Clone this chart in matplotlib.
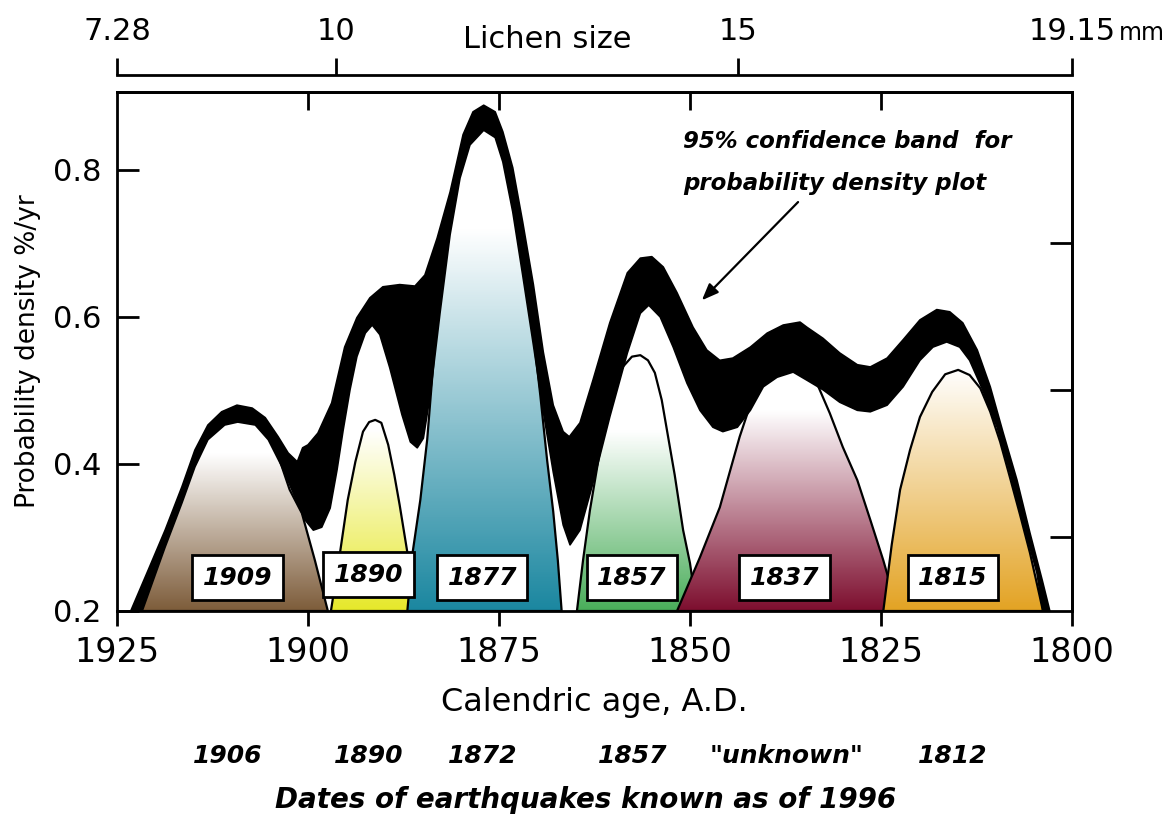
import numpy as np
import matplotlib.pyplot as plt
from matplotlib.patches import Polygon
from matplotlib.colors import LinearSegmentedColormap

# 95% confidence band, outer (upper) and inner (lower) edge
band_upper_yr = [1923.2, 1920.9, 1918.7, 1916.5, 1914.8, 1913.1, 1911.3, 1909.3, 1907.3, 1905.6,
                 1903.9, 1902.6, 1901.4, 1900.7, 1900.0, 1898.7, 1896.9, 1895.2, 1893.6, 1891.9,
                 1890.2, 1888.0, 1886.0, 1884.7, 1883.1, 1881.4, 1879.7, 1878.4, 1877.0, 1875.5,
                 1874.5, 1873.2, 1871.9, 1870.5, 1869.2, 1867.9, 1866.6, 1865.8, 1864.4, 1862.7,
                 1860.5, 1858.2, 1856.5, 1855.0, 1853.5, 1851.7, 1849.6, 1847.8, 1846.1, 1844.4,
                 1842.1, 1839.9, 1837.8, 1835.6, 1834.7, 1832.6, 1830.4, 1828.1, 1826.4, 1824.2,
                 1822.1, 1819.9, 1817.7, 1816.0, 1814.3, 1812.4, 1810.7, 1809.0, 1807.2, 1805.5,
                 1803.9, 1802.9]
band_upper_p = [0.200, 0.256, 0.310, 0.369, 0.419, 0.453, 0.471, 0.480, 0.476, 0.463,
                0.437, 0.415, 0.403, 0.422, 0.426, 0.442, 0.483, 0.559, 0.599, 0.626,
                0.641, 0.644, 0.642, 0.657, 0.707, 0.770, 0.848, 0.879, 0.888, 0.879,
                0.852, 0.803, 0.729, 0.644, 0.552, 0.480, 0.444, 0.437, 0.456, 0.514,
                0.592, 0.660, 0.680, 0.682, 0.668, 0.633, 0.586, 0.555, 0.541, 0.544,
                0.559, 0.578, 0.589, 0.593, 0.586, 0.571, 0.551, 0.535, 0.532, 0.544,
                0.569, 0.596, 0.610, 0.607, 0.592, 0.555, 0.505, 0.442, 0.378, 0.306,
                0.242, 0.200]
band_lower_yr = [1921.7, 1918.7, 1916.5, 1914.8, 1913.1, 1910.9, 1909.2, 1906.9, 1905.2, 1903.4,
                 1901.7, 1900.4, 1899.3, 1898.2, 1897.1, 1896.2, 1895.4, 1894.5, 1893.6, 1892.5,
                 1891.6, 1890.6, 1889.3, 1887.7, 1886.6, 1885.7, 1884.9, 1884.0, 1882.7, 1881.4,
                 1880.1, 1878.8, 1877.0, 1875.5, 1874.5, 1873.2, 1871.9, 1870.5, 1869.2, 1867.9,
                 1866.6, 1865.7, 1864.4, 1862.7, 1860.5, 1858.2, 1856.5, 1855.4, 1853.9, 1852.2,
                 1850.4, 1848.7, 1847.0, 1845.7, 1843.8, 1842.1, 1840.4, 1838.6, 1836.5, 1834.7,
                 1832.6, 1830.4, 1828.1, 1826.4, 1824.2, 1822.1, 1819.9, 1818.2, 1816.4, 1814.7,
                 1813.4, 1811.7, 1809.8, 1808.1, 1806.4, 1804.6, 1803.8]
band_lower_p = [0.200, 0.287, 0.347, 0.396, 0.433, 0.453, 0.457, 0.453, 0.433, 0.396,
                0.355, 0.324, 0.310, 0.314, 0.340, 0.392, 0.446, 0.501, 0.546, 0.578,
                0.589, 0.576, 0.531, 0.467, 0.430, 0.422, 0.435, 0.494, 0.607, 0.712,
                0.789, 0.834, 0.854, 0.844, 0.811, 0.743, 0.657, 0.562, 0.471, 0.389,
                0.317, 0.290, 0.310, 0.374, 0.464, 0.551, 0.605, 0.616, 0.600, 0.559,
                0.510, 0.473, 0.450, 0.444, 0.450, 0.473, 0.505, 0.518, 0.525, 0.514,
                0.501, 0.484, 0.473, 0.471, 0.480, 0.505, 0.541, 0.559, 0.566, 0.559,
                0.541, 0.501, 0.450, 0.388, 0.320, 0.252, 0.200]

# lichen-size clusters (shaded humps)
h1909_yr = [1922.0, 1918.7, 1916.5, 1914.8, 1913.1, 1910.9, 1909.2, 1906.9, 1905.2, 1903.7, 1902.4, 1900.8, 1899.1, 1897.4]
h1909_p = [0.200, 0.295, 0.355, 0.405, 0.440, 0.460, 0.465, 0.460, 0.440, 0.405, 0.365, 0.333, 0.269, 0.200]
h1890_yr = [1897.0, 1895.8, 1894.8, 1893.8, 1892.8, 1892.0, 1891.2, 1890.4, 1889.5, 1888.7, 1888.0, 1887.0, 1886.3]
h1890_p = [0.200, 0.280, 0.351, 0.403, 0.444, 0.457, 0.460, 0.456, 0.426, 0.385, 0.344, 0.280, 0.200]
h1877_yr = [1887.0, 1886.3, 1885.3, 1884.4, 1883.4, 1882.3, 1881.2, 1879.8, 1878.5, 1877.0,
            1875.5, 1874.5, 1873.2, 1871.9, 1870.5, 1869.6, 1868.7, 1867.9, 1867.3, 1866.8]
h1877_p = [0.200, 0.280, 0.351, 0.433, 0.562, 0.657, 0.752, 0.820, 0.848, 0.861,
           0.852, 0.820, 0.752, 0.671, 0.576, 0.494, 0.405, 0.335, 0.269, 0.200]
h1857_yr = [1864.8, 1864.0, 1863.1, 1862.0, 1860.9, 1859.8, 1858.8, 1857.6, 1856.5, 1855.5,
            1854.6, 1853.7, 1852.9, 1852.0, 1850.9, 1850.0, 1849.1]
h1857_p = [0.200, 0.269, 0.337, 0.405, 0.467, 0.507, 0.532, 0.546, 0.548, 0.541,
           0.524, 0.487, 0.439, 0.385, 0.310, 0.265, 0.200]
h1837_yr = [1851.7, 1848.7, 1846.1, 1843.5, 1841.9, 1840.2, 1838.2, 1836.3, 1834.6, 1833.4,
            1831.7, 1830.0, 1828.1, 1826.4, 1824.7, 1822.8]
h1837_p = [0.200, 0.273, 0.341, 0.437, 0.487, 0.512, 0.525, 0.531, 0.525, 0.510,
           0.469, 0.423, 0.378, 0.324, 0.269, 0.200]
h1815_yr = [1824.7, 1823.6, 1822.5, 1821.2, 1819.9, 1818.3, 1816.6, 1814.9, 1813.4, 1812.0,
            1810.7, 1809.4, 1808.1, 1806.8, 1805.5, 1804.2, 1803.8]
h1815_p = [0.200, 0.290, 0.365, 0.419, 0.464, 0.498, 0.522, 0.528, 0.521, 0.503,
           0.471, 0.430, 0.381, 0.331, 0.279, 0.219, 0.200]

hump_labels = ['1909', '1890', '1877', '1857', '1837', '1815']
hump_colors = ['#7d5c3a', '#e6e82a', '#1b87a0', '#4aad5a', '#7d0e2e', '#e3a324']
hump_white = [0.415, 0.446, 0.721, 0.446, 0.473, 0.53]   # level where the fill fades to white
label_yr = [1909.2, 1892.1, 1877.2, 1857.6, 1837.6, 1815.6]
label_p = [0.245, 0.249, 0.245, 0.245, 0.245, 0.245]

known_quakes = ['1906', '1890', '1872', '1857', '"unknown"', '1812']
known_x = [0.195, 0.316, 0.414, 0.542, 0.674, 0.816]

lichen_ticks = [7.28, 10, 15, 19.15]


def yr2mm(y):
    return 7.28 + (1925 - np.asarray(y)) * (19.15 - 7.28) / 125


def mm2yr(m):
    return 1925 - (np.asarray(m) - 7.28) * 125 / (19.15 - 7.28)


fig = plt.figure(figsize=(11.67, 8.18), dpi=100)
ax = fig.add_axes([117 / 1167, 1 - 611 / 818, 955 / 1167, 519 / 818])

humps = [(h1909_yr, h1909_p), (h1890_yr, h1890_p), (h1877_yr, h1877_p),
         (h1857_yr, h1857_p), (h1837_yr, h1837_p), (h1815_yr, h1815_p)]
for i, (yrs, ps) in enumerate(humps):
    z = 2 + i * 0.2
    poly = Polygon(np.column_stack([yrs, ps]), closed=True, facecolor='none',
                   edgecolor='black', lw=1.6, joinstyle='round', zorder=z + 0.1)
    ax.add_patch(poly)
    cmap = LinearSegmentedColormap.from_list('g%d' % i, [hump_colors[i], 'white'])
    lev = np.linspace(0.2, max(ps), 300)
    grad = np.clip((lev - 0.2) / (hump_white[i] - 0.2), 0, 1).reshape(-1, 1)
    im = ax.imshow(grad, cmap=cmap, vmin=0, vmax=1, origin='lower', aspect='auto',
                   extent=(min(yrs), max(yrs), 0.2, max(ps)), zorder=z, interpolation='bilinear')
    im.set_clip_path(poly)

# confidence band
ax.fill(np.concatenate([band_upper_yr, band_lower_yr[::-1]]),
        np.concatenate([band_upper_p, band_lower_p[::-1]]),
        facecolor='black', edgecolor='black', lw=1.2, joinstyle='round', zorder=4)

for lab, x, y in zip(hump_labels, label_yr, label_p):
    ax.text(x, y, lab, ha='center', va='center', fontsize=18, fontweight='bold',
            fontstyle='italic', zorder=6,
            bbox=dict(boxstyle='square,pad=0.42', fc='white', ec='black', lw=2))

ax.text(1850.9, 0.838, '95% confidence band  for', ha='left', va='center',
        fontsize=16.5, fontweight='bold', fontstyle='italic', zorder=6)
ax.text(1850.9, 0.782, 'probability density plot', ha='left', va='center',
        fontsize=16.5, fontweight='bold', fontstyle='italic', zorder=6)
ax.annotate('', xy=(1848.7, 0.620), xytext=(1835.6, 0.759),
            arrowprops=dict(arrowstyle='-|>,head_length=1.0,head_width=0.4', color='black', lw=1.6),
            zorder=6)

ax.set_xlim(1925, 1800)
ax.set_ylim(0.2, 0.906)
ax.set_xticks([1925, 1900, 1875, 1850, 1825, 1800])
ax.set_yticks([0.2, 0.4, 0.6, 0.8])
ax.set_yticklabels(['0.2', '0.4', '0.6', '0.8'])
for s in ax.spines.values():
    s.set_linewidth(2)
ax.tick_params(axis='x', direction='out', length=11, width=2, pad=7, labelsize=24)
ax.tick_params(axis='y', direction='in', length=16, width=2, pad=11, labelsize=22)
ax.set_xlabel('Calendric age, A.D.', fontsize=23, labelpad=13)
ax.set_ylabel('Probability density %/yr', fontsize=19, labelpad=9)

top = ax.secondary_xaxis('top')
top.set_xticks([1900, 1875, 1850, 1825])
top.set_xticklabels([])
top.tick_params(direction='in', length=13, width=2)
top.spines['top'].set_linewidth(2)

right = ax.secondary_yaxis('right')
right.set_yticks([0.3, 0.5, 0.7])
right.set_yticklabels([])
right.tick_params(direction='in', length=16, width=2)
right.spines['right'].set_linewidth(2)

lich = ax.secondary_xaxis(1.033, functions=(yr2mm, mm2yr))
lich.set_xticks(lichen_ticks)
lich.set_xticklabels(['7.28', '10', '15', '19.15'], fontsize=22)
lich.tick_params(direction='out', length=12, width=2, pad=9)
lich.spines['top'].set_linewidth(2)

fig.text(1119 / 1167, 1 - 33 / 818, 'mm', ha='left', va='center', fontsize=17)
fig.text(547 / 1167, 1 - 40 / 818, 'Lichen size', ha='center', va='center', fontsize=22)

for lab, x in zip(known_quakes, known_x):
    fig.text(x, 1 - 756 / 818, lab, ha='center', va='center', fontsize=18,
             fontweight='bold', fontstyle='italic')
fig.text(0.502, 1 - 800 / 818, 'Dates of earthquakes known as of 1996', ha='center', va='center',
         fontsize=20, fontweight='bold', fontstyle='italic')

fig.savefig('out.png', dpi=100)
